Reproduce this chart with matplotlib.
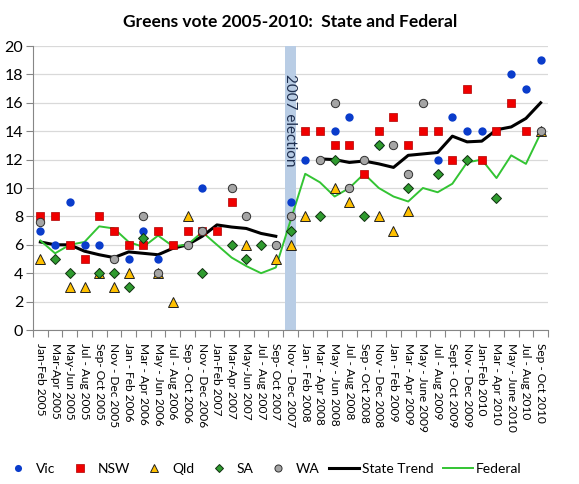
import numpy as np
import matplotlib
matplotlib.use("Agg")
import matplotlib.pyplot as plt
from matplotlib.ticker import MultipleLocator, FixedLocator

plt.rcParams['font.family'] = ['Lato', 'DejaVu Sans']

nan = np.nan
periods = ["Jan-Feb 2005", "Mar-Apr 2005", "May-Jun 2005", "Jul - Aug 2005", "Sep- Oct 2005",
           "Nov - Dec 2005", "Jan - Feb 2006", "Mar - Apr 2006", "May - Jun 2006", "Jul - Aug 2006",
           "Sep - Oct 2006", "Nov - Dec 2006", "Jan-Feb 2007", "Mar-Apr 2007", "May-Jun 2007",
           "Jul - Aug 2007", "Sep- Oct 2007", "Nov - Dec 2007", "Jan - Feb 2008", "Mar - Apr 2008",
           "May - Jun 2008", "Jul - Aug 2008", "Sep - Oct 2008", "Nov - Dec 2008", "Jan - Feb 2009",
           "Mar - Apr 2009", "May - June 2009", "Jul - Aug 2009", "Sept - Oct 2009", "Nov - Dec 2009",
           "Jan-Feb 2010", "Mar - Apr 2010", "May - June 2010", "Jul - Aug 2010", "Sep - Oct 2010"]

vic = [7, 6, 9, 6, 6, nan, 5, 7, 5, nan, nan, 10, nan, nan, nan, nan, 6, 9, 12, nan,
       14, 15, nan, 13, nan, nan, nan, 12, 15, 14, 14, nan, 18, 17, 19]
nsw = [8, 8, 6, 5, 8, 7, 6, 6, 7, 6, 7, 7, 7, 9, nan, nan, nan, nan, 14, 14,
       13, 13, 11, 14, 15, 13, 14, 14, 12, 17, 12, 14, 16, 14, nan]
qld = [5, nan, 3, 3, 4, 3, 4, nan, 4, 2, 8, nan, nan, nan, 6, nan, 5, 6, 8, nan,
       10, 9, nan, 8, 7, 8.4, nan, nan, nan, nan, nan, nan, nan, nan, 14]
sa = [nan, 5, 4, nan, 4, 4, 3, 6.5, nan, nan, nan, 4, nan, 6, 5, 6, nan, 7, nan, 8,
      12, nan, 8, 13, nan, 10, nan, 11, nan, 12, nan, 9.3, nan, nan, nan]
wa = [7.6, nan, nan, nan, nan, 5, nan, 8, 4, nan, 6, 7, nan, 10, 8, nan, 6, 8, nan, 12,
      16, 10, 12, nan, 13, 11, 16, nan, nan, nan, nan, nan, nan, nan, 14]
state_trend = [6.2, 6.0, 6.0, 5.55, 5.3, 5.1, 5.5, 5.4, 5.3, 5.75, 6.0, 6.6, 7.4, 7.25, 7.15,
               6.8, 6.6, nan, nan, 12.05, 12.0, 11.8, 11.9, 11.7, 11.45, 12.3, 12.4, 12.5,
               13.65, 13.25, 13.3, 14.1, 14.3, 14.9, 16.0]
federal = [6.3, 5.4, 6.0, 6.2, 7.3, 7.15, 6.2, 5.85, 6.65, 5.9, 6.0, 6.9, 6.0, 5.1, 4.5,
           4.0, 4.4, 7.7, 11.0, 10.4, 9.4, 10.0, 11.0, 10.0, 9.4, 9.05, 10.0, 9.7, 10.3,
           11.8, 12.0, 10.7, 12.3, 11.7, 13.85]
election_period = "Nov - Dec 2007"
election_label = "2007 election"
election_height = 20

fig = plt.figure(figsize=(5.79, 4.84), dpi=100)
ax = fig.add_axes([33/579, 1-330/484, 515/579, 284/484])
x = np.arange(len(periods))

# election band
ei = periods.index(election_period)
ax.bar([ei], [election_height], width=0.77, color='#B9CDE5', zorder=1)
ax.text(ei, 18.0, election_label, rotation=270, ha='center', va='top',
        fontsize=11, color='#1F2F4F', zorder=2)

ax.plot(x, state_trend, color='black', lw=2.2, zorder=3, label='State Trend')
ax.plot(x, federal, color='#33C433', lw=1.4, zorder=3, label='Federal')

ms = 6
h_vic, = ax.plot(x, vic, 'o', ms=ms, color='#0A3CCB', mec='#0A3CCB', mew=0, zorder=4, label='Vic')
h_nsw, = ax.plot(x, nsw, 's', ms=ms, color='#F00000', mec='#B00000', mew=0.5, zorder=4, label='NSW')
h_qld, = ax.plot(x, qld, '^', ms=ms+0.5, color='#FFC000', mec='#202020', mew=0.7, zorder=4, label='Qld')
h_sa, = ax.plot(x, sa, 'D', ms=ms-1.2, color='#2F9B2F', mec='#103010', mew=0.7, zorder=4, label='SA')
h_wa, = ax.plot(x, wa, 'o', ms=ms, color='#A5A5A5', mec='#303030', mew=0.7, zorder=4, label='WA')

ax.set_xlim(-0.5, len(periods) - 0.5)
ax.set_ylim(0, 20)
ax.yaxis.set_major_locator(MultipleLocator(2))
ax.grid(axis='y', color='#D9D9D9', lw=0.9, zorder=0)
ax.set_axisbelow(True)
for s in ['top', 'right']:
    ax.spines[s].set_visible(False)
for s in ['left', 'bottom']:
    ax.spines[s].set_color('#868686')
ax.tick_params(axis='y', length=5, width=0.8, color='#868686', pad=2, labelsize=11.5)
ax.set_xticks(x)
ax.set_xticklabels(periods, rotation=270, fontsize=8.6)
ax.tick_params(axis='x', which='major', length=0, pad=9.5)
ax.xaxis.set_minor_locator(FixedLocator(np.arange(-0.5, len(periods), 1.0)))
ax.tick_params(axis='x', which='minor', length=5, width=0.8, color='#868686')

ax.set_title("Greens vote 2005-2010:  State and Federal", fontsize=12.5,
             fontweight='bold', pad=14)

handles = [h_vic, h_nsw, h_qld, h_sa, h_wa] + ax.lines[:2]
labels = ['Vic', 'NSW', 'Qld', 'SA', 'WA', 'State Trend', 'Federal']
fig.legend(handles, labels, loc='center left', bbox_to_anchor=(3/579, 1 - 469/484), ncol=7,
           frameon=False, fontsize=10.0, handlelength=2.15, handletextpad=0.2,
           columnspacing=0.7, markerscale=0.85, borderaxespad=0, borderpad=0)

fig.savefig('out.png', dpi=100)
